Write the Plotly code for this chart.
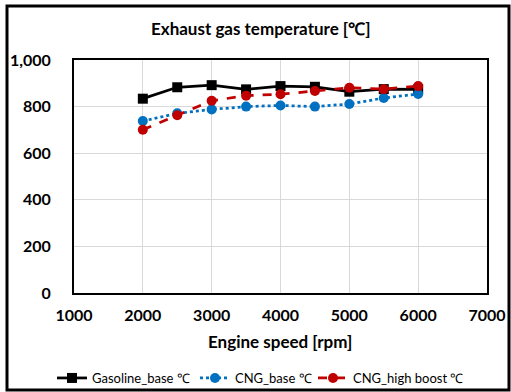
import plotly.graph_objects as go

# Engine speed sweep and exhaust gas temperatures [°C]
engine_speed = [2000, 2500, 3000, 3500, 4000, 4500, 5000, 5500, 6000]
gasoline_base = [834, 883, 892, 874, 888, 885, 864, 875, 874]
cng_base = [738, 771, 788, 800, 805, 800, 811, 837, 854]
cng_high_boost = [701, 763, 825, 847, 853, 867, 881, 875, 888]

FONT = "Lato"

fig = go.Figure()
fig.add_trace(go.Scatter(
    x=engine_speed, y=gasoline_base, name="Gasoline_base ℃",
    mode="lines+markers", legend="legend",
    line=dict(color="#000000", width=2.75),
    marker=dict(symbol="square", size=10, color="#000000"),
))
fig.add_trace(go.Scatter(
    x=engine_speed, y=cng_base, name="CNG_base ℃",
    mode="lines+markers", legend="legend2",
    line=dict(color="#0070C0", width=2.75, dash="dot"),
    marker=dict(symbol="circle", size=10, color="#0070C0"),
))
fig.add_trace(go.Scatter(
    x=engine_speed, y=cng_high_boost, name="CNG_high boost ℃",
    mode="lines+markers", legend="legend3",
    line=dict(color="#C00000", width=2.75, dash="dash"),
    marker=dict(symbol="circle", size=10, color="#C00000"),
))

axis_common = dict(
    showline=True, linecolor="#000000", linewidth=2, mirror=True,
    showgrid=True, gridcolor="#d9d9d9", gridwidth=1,
    ticks="", zeroline=False,
    tickfont=dict(family=FONT, size=16, color="#000000", weight="bold"),
)

# plot area spans x 74..487 px and y 60..293 px
def px_to_paper_y(py):
    return (293 - py) / 233

def px_to_paper_x(px):
    return (px - 74) / 413

def legend_box(left_px):
    return dict(orientation="h", x=px_to_paper_x(left_px), xanchor="left",
                y=px_to_paper_y(378), yanchor="middle",
                font=dict(family=FONT, size=13), itemwidth=30,
                bgcolor="rgba(0,0,0,0)")

fig.update_layout(
    width=511, height=392,
    margin=dict(l=74, r=24, t=60, b=99, autoexpand=False),
    paper_bgcolor="#ffffff", plot_bgcolor="#ffffff",
    font=dict(family=FONT, color="#000000"),
    showlegend=True,
    xaxis=dict(range=[1000, 7000], dtick=1000, tickformat="d",
               ticklabelstandoff=7, **axis_common),
    yaxis=dict(range=[0, 1000], dtick=200, tickformat=",",
               ticklabelstandoff=18, **axis_common),
    legend=legend_box(52),
    legend2=legend_box(195),
    legend3=legend_box(313),
    annotations=[
        dict(text="Exhaust gas temperature [℃]", xref="paper", yref="paper",
             x=px_to_paper_x(261), y=px_to_paper_y(29),
             xanchor="center", yanchor="middle", showarrow=False,
             font=dict(family=FONT, size=17, weight="bold")),
        dict(text="Engine speed [rpm]", xref="paper", yref="paper",
             x=px_to_paper_x(280), y=px_to_paper_y(341),
             xanchor="center", yanchor="middle", showarrow=False,
             font=dict(family=FONT, size=17, weight="bold")),
    ],
    shapes=[dict(
        type="rect", xref="paper", yref="paper",
        x0=px_to_paper_x(7), x1=px_to_paper_x(509),
        y0=px_to_paper_y(390), y1=px_to_paper_y(6),
        line=dict(color="#000000", width=3), fillcolor="rgba(0,0,0,0)",
    )],
)

fig.write_html("out.html")
